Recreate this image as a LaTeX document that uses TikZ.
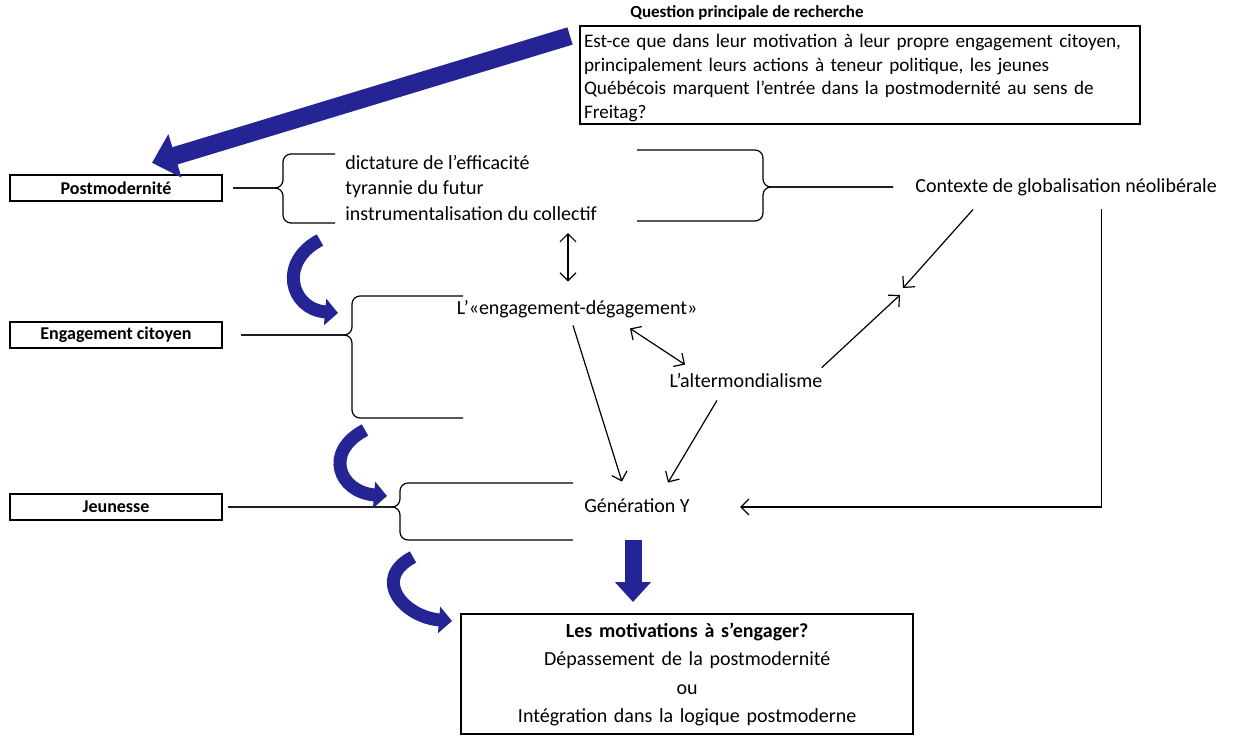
\documentclass[tikz,border=0pt]{standalone}
\usepackage{fontspec}
\setmainfont{Carlito}
\usepackage{tikz}
\usetikzlibrary{shapes,positioning,arrows.meta,calc}
\definecolor{deepblue}{RGB}{36,36,148}

\begin{document}
\begin{tikzpicture}[x=0.5pt,y=-0.5pt,
    lbl/.style={rectangle,draw,line width=1.2pt,minimum width=106pt,minimum height=13pt,inner sep=1pt,font=\small\bfseries},
    txt/.style={inner sep=1pt,font=\fontsize{10}{12}\selectfont,text height=7pt,text depth=2pt},
    brace/.style={line width=0.6pt,rounded corners=4pt},
    link/.style={line width=0.6pt,-{Straight Barb[length=4pt,width=8pt]}},
    dbl/.style={line width=0.6pt,{Straight Barb[length=4pt,width=8pt]}-{Straight Barb[length=4pt,width=8pt]}},
    bigarrow/.style={deepblue,line width=9pt,-{Triangle[length=12pt,width=22pt]}},
    curvearrow/.style={deepblue,line width=6.5pt,-{Triangle[length=6.5pt,width=13pt]}}]
    \useasboundingbox (0,0) rectangle (1248,735);

    % question
    \node[draw,line width=1pt,anchor=north west,text width=276pt,inner xsep=2pt,inner ysep=1.2pt,align=left,font=\fontsize{9.6}{11.75}\selectfont] (q) at (579,25)
      {\rule{0pt}{9.6pt}Est-ce que dans leur motivation à leur propre engagement citoyen,\\
       principalement leurs actions à teneur politique, les jeunes\\
       Québécois marquent l’entrée dans la postmodernité au sens de\\
       Freitag?};
    \node[inner sep=1pt,anchor=south west,font=\fontsize{8.5}{10}\bfseries] (qt) at (628,23) {Question principale de recherche};

    % left column
    \node[lbl] (pm) at (116,188) {Postmodernité};
    \node[lbl] (ec) at (116,335) {Engagement citoyen};
    \node[lbl] (je) at (116,507) {Jeunesse};

    \foreach \n/\gap/\vx/\top/\bot/\ex in {pm/5pt/283/154/223/335, ec/9pt/352/296/418/463, je/2.5pt/400/483/540/573}{
      \draw[brace] ([xshift=\gap]\n.east) -| (\vx,\top) -- (\ex,\top);
      \draw[brace] ([xshift=\gap]\n.east) -| (\vx,\bot) -- (\ex,\bot);
    }

    % middle
    \node[inner sep=1pt,anchor=west,align=left,font=\fontsize{10}{12.75}\selectfont] (dict) at (343,188)
      {dictature de l'efficacité\\ tyrannie du futur\\ instrumentalisation du collectif};
    \node[txt,anchor=west] (ctx) at (913,187) {Contexte de globalisation néolibérale};
    \node[txt] (eng) at (577,309) {L’«engagement-dégagement»};
    \node[txt] (alt) at (746,382) {L’altermondialisme};
    \node[txt] (gen) at (637,507) {Génération Y};
    \coordinate (meet) at (901,292);

    \draw[brace] ([xshift=-10pt]ctx.west) -| (763,150) -- (637,150);
    \draw[brace] ([xshift=-10pt]ctx.west) -| (763,221) -- (637,221);

    \draw[dbl] ([xshift=-4.5pt,yshift=8pt]eng.north) -- ([xshift=-4.5pt,yshift=-5pt]eng.north |- dict.south);
    \draw[dbl] ([xshift=26.5pt,yshift=-4pt]eng.south) -- ([xshift=-30.5pt,yshift=3pt]alt.north);
    \draw[link] ([xshift=-2pt,yshift=-2.5pt]eng.south) -- ([xshift=-7.5pt,yshift=7pt]gen.north);
    \draw[link] ([xshift=-14.5pt,yshift=-3.5pt]alt.south) -- ([xshift=15.5pt,yshift=6.5pt]gen.north);
    \draw[link] ([xshift=-46.5pt,yshift=-5.5pt]ctx.south) -- ([xshift=1pt,yshift=2pt]meet);
    \draw[link] ([xshift=-1.5pt,yshift=1.5pt]alt.north east) -- ([xshift=-0.5pt,yshift=-1.5pt]meet);
    \draw[link] ([xshift=17.5pt,yshift=-5.5pt]ctx.south) |- ([xshift=24pt]gen.east);

    % bottom
    \node[draw,line width=1.2pt,anchor=north west,text width=222pt,minimum height=60pt,inner sep=2pt,align=center,font=\fontsize{10}{14.25}\selectfont] (mot) at (460,613)
      {{\bfseries Les motivations à s’engager?}\\ Dépassement de la postmodernité\\ ou\\ Intégration dans la logique postmoderne};

    % blue arrows
    \draw[bigarrow] ([xshift=-4.5pt,yshift=-5.5pt]q.north west) -- ([xshift=18pt,yshift=5.5pt]pm.north);
    \draw[deepblue,line width=8.5pt,-{Triangle[length=10pt,width=17.5pt]},shorten >=5.5pt] ([xshift=-2pt,yshift=-11pt]gen.south) -- ([xshift=-2pt]gen.south |- mot.north);
    \foreach \sx/\sy/\ex/\ey in {320/240/338/313, 365/430/387/496, 413/557/452/621}{
      \draw[curvearrow] (\sx,\sy) .. controls (\sx-42,\sy+22) and (\ex-48,\ey-4) .. (\ex,\ey);
    }
\end{tikzpicture}
\end{document}
